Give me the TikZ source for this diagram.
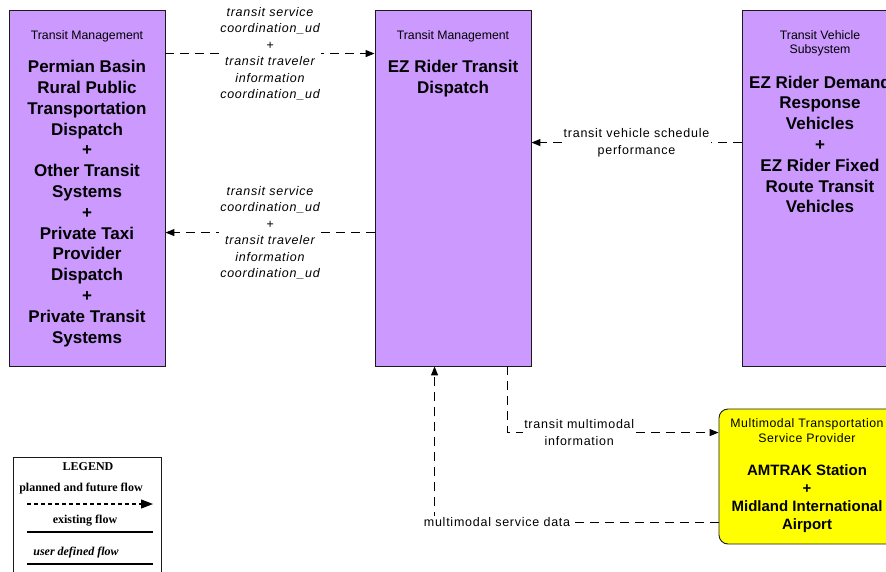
\documentclass[tikz,border=0pt]{standalone}
\usepackage{fontspec}
\setmainfont{Liberation Sans}
\newfontfamily\legendfont{Liberation Serif}
\usetikzlibrary{arrows.meta}
\definecolor{subsyspurple}{HTML}{CC99FF}
\definecolor{termyellow}{HTML}{FFFF00}
\definecolor{edgeink}{HTML}{1A1A1A}
\tikzset{
  ss/.style={draw=edgeink, line width=0.9pt, fill=subsyspurple, minimum width=156pt, minimum height=356pt, inner sep=0pt},
  ss term/.style={ss, fill=termyellow, rounded corners=9pt, minimum width=176pt, minimum height=135pt},
  ss cat/.style={font=\fontsize{12.3}{14}\selectfont, align=center, inner sep=0pt},
  ss name/.style={font=\bfseries\fontsize{17}{20.8}\selectfont, align=center, inner sep=0pt},
  fl arr/.style={-{Triangle[length=9pt, width=7pt]}, line width=1.2pt, dash pattern=on 9pt off 6pt},
  fl lbl/.style={fill=white, align=center, inner sep=1.5pt,
                 font=\fontsize{12.5}{16.5}\selectfont\addfontfeature{LetterSpace=6}},
  fl ud/.style={fl lbl, font=\itshape\fontsize{12.5}{16.5}\selectfont\addfontfeature{LetterSpace=6}},
  lg text/.style={font=\legendfont\bfseries\fontsize{12}{13}\selectfont, inner sep=0pt},
  lg rule/.style={line width=1.2pt},
}

\begin{document}
\begin{tikzpicture}[x=1pt, y=-1pt]
  \useasboundingbox (0,0) rectangle (886,571);
  \clip (0,0) rectangle (886,571);
  % subsystems and terminator
  \node[ss] (pb) at (87,188) {};
  \node[ss] (ez) at (453,188) {};
  \node[ss] (tv) at (820,188) {};
  \node[ss term] (mm) at (807,476.5) {};
  \node[ss cat] (pbc) at (87,36) {Transit Management};
  \node[ss name] (pbn) at (87,203.5) {Permian Basin\\Rural Public\\Transportation\\Dispatch\\+\\Other Transit\\Systems\\+\\Private Taxi\\Provider\\Dispatch\\+\\Private Transit\\Systems};
  \node[ss cat] (ezc) at (453,36) {Transit Management};
  \node[ss name] (ezn) at (453,78.5) {EZ Rider Transit\\Dispatch};
  \node[ss cat] (tvc) at (820,43) {Transit Vehicle\\Subsystem};
  \node[ss name] (tvn) at (820,144.5) {EZ Rider Demand\\Response\\Vehicles\\+\\EZ Rider Fixed\\Route Transit\\Vehicles};
  \node[ss cat, font=\fontsize{12.3}{15}\selectfont\addfontfeature{LetterSpace=4}] (mmc) at (807,430.5) {Multimodal Transportation\\Service Provider};
  \node[ss name, font=\bfseries\fontsize{15}{18}\selectfont] (mmn) at (807,499) {AMTRAK Station\\+\\Midland International\\Airport};
  % flows
  \draw[fl arr] ([yshift=-44pt]pb.north east) -- node[fl ud] (f1) {transit service\\coordination\_ud\\+\\transit traveler\\information\\coordination\_ud} ([yshift=-44pt]ez.north west);
  \draw[fl arr] ([yshift=-223pt]ez.north west) -- node[fl ud] (f2) {transit service\\coordination\_ud\\+\\transit traveler\\information\\coordination\_ud} ([yshift=-223pt]pb.north east);
  \draw[fl arr] ([yshift=-133pt]tv.north west) -- node[fl lbl] (f3) {transit vehicle schedule\\performance} ([yshift=-133pt]ez.north east);
  \draw[fl arr] ([xshift=-24pt]ez.south east) |- node[fl lbl, pos=0.67] (f4) {transit multimodal\\information} ([yshift=-24pt]mm.north west);
  \draw[fl arr] ([yshift=22pt]mm.south west) -| node[fl lbl, pos=0.39] (f5) {multimodal service data} ([xshift=60pt]ez.south west);
  % legend
  \node[draw=edgeink, line width=0.9pt, fill=white, minimum width=148pt, minimum height=140pt] (lg) at (87,527) {};
  \node[lg text] (lgh) at (88,467) {LEGEND};
  \node[lg text] (lgp) at (81,489) {planned and future flow};
  \node[lg text] (lge) at (85,521) {existing flow};
  \node[lg text, font=\legendfont\bfseries\itshape\fontsize{12}{13}\selectfont] (lgu) at (76,553) {user defined flow};
  \coordinate (lgpa) at (27,504); \coordinate (lgpb) at (153,504);
  \draw[-{Triangle[length=12pt, width=9pt]}, line width=1.2pt, dash pattern=on 4pt off 3pt] (lgpa) -- (lgpb);
  \foreach \y in {532,564} \draw[lg rule] (27,\y) -- (153,\y);
\end{tikzpicture}
\end{document}
